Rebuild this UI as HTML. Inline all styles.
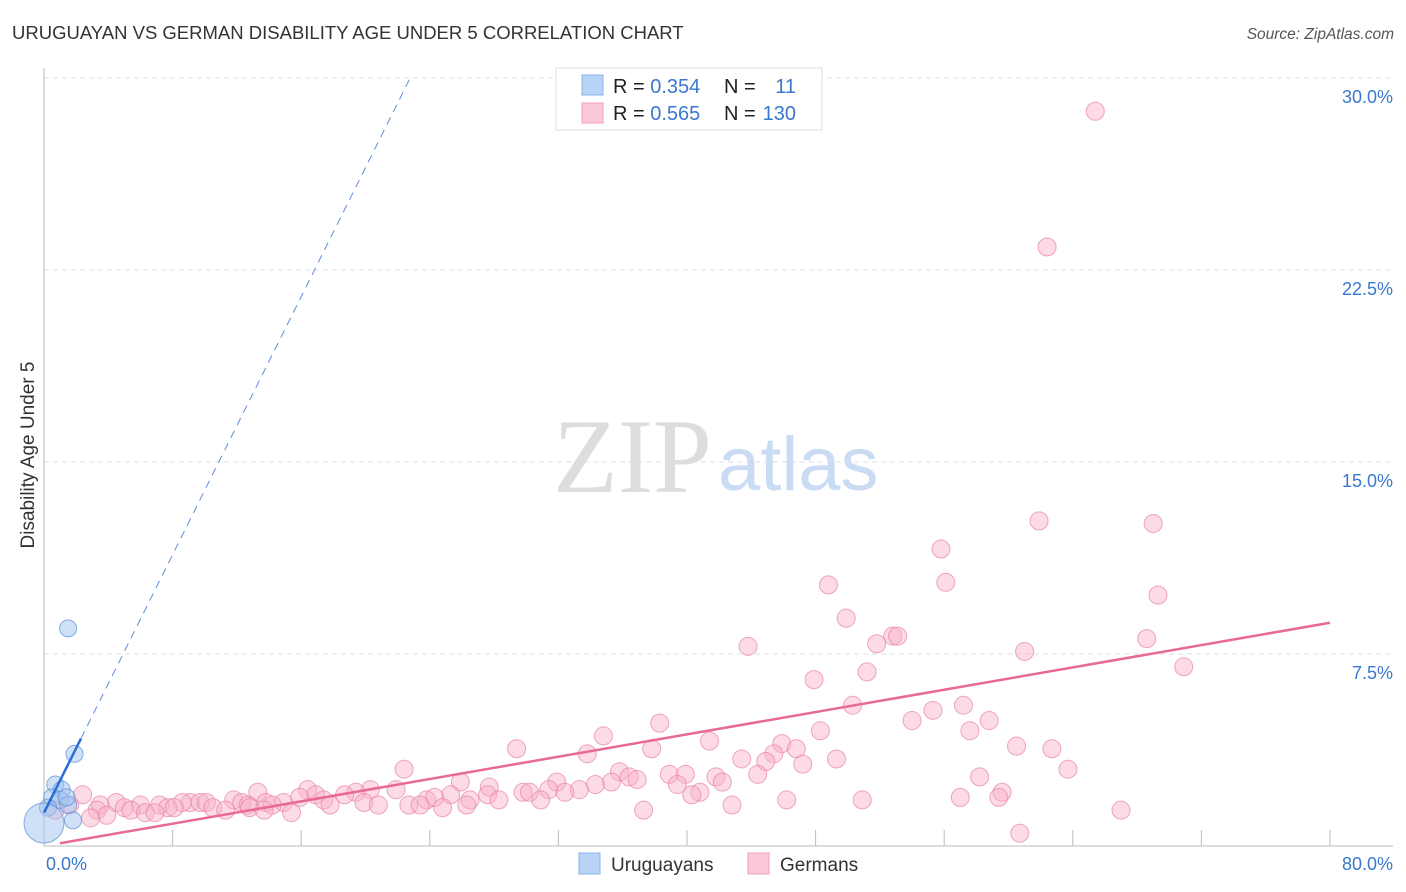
<!DOCTYPE html>
<html><head><meta charset="utf-8"><style>
body{margin:0;background:#fff;font-family:"Liberation Sans",sans-serif;}
#wrap{position:relative;width:1406px;height:892px;overflow:hidden;}
</style></head><body>
<div id="wrap">
<svg id="svg" width="1406" height="892" xmlns="http://www.w3.org/2000/svg">
<text x="12" y="39" font-size="18.5" fill="#333">URUGUAYAN VS GERMAN DISABILITY AGE UNDER 5 CORRELATION CHART</text>
<text x="1394" y="39" font-size="15.5" fill="#555" font-style="italic" text-anchor="end">Source: ZipAtlas.com</text>
<text transform="translate(34,455) rotate(-90)" font-size="19" fill="#333" text-anchor="middle">Disability Age Under 5</text>
<text x="553" y="492" font-size="106" fill="#ddd" font-family="Liberation Serif,serif">ZIP</text>
<text x="718" y="490" font-size="76" fill="#c9dcf3">atlas</text>
<g id="grid"></g><g id="marks"></g>
<g>
<rect x="556" y="68" width="266" height="62" fill="#fff" stroke="#ddd"/>
<rect x="582" y="75" width="21" height="20" fill="#b8d3f5" stroke="#8ab4e8"/>
<rect x="582" y="103" width="21" height="20" fill="#fbc9d8" stroke="#f0a0b8"/>
<text x="613" y="93" font-size="20" fill="#222">R = <tspan fill="#3a78d0">0.354</tspan></text>
<text x="724" y="93" font-size="20" fill="#222">N = </text><text x="796" y="93" font-size="20" fill="#3a78d0" text-anchor="end">11</text>
<text x="613" y="120" font-size="20" fill="#222">R = <tspan fill="#3a78d0">0.565</tspan></text>
<text x="724" y="120" font-size="20" fill="#222">N = </text><text x="796" y="120" font-size="20" fill="#3a78d0" text-anchor="end">130</text>
</g>
<g>
<rect x="579" y="853" width="21" height="21" fill="#b8d3f5" stroke="#8ab4e8"/>
<text x="611" y="871" font-size="19" fill="#333">Uruguayans</text>
<rect x="748" y="853" width="21" height="21" fill="#fbc9d8" stroke="#f0a0b8"/>
<text x="780" y="871" font-size="19" fill="#333">Germans</text>
</g>
</svg>
</div>
<script>
const xTicks=[0,80];
const yTicks=[7.5,15,22.5,30];
const blueX=[1.5,1.9,0.7,1.1,0.5,1.0,1.5,0.25,1.8,0,1.4];
const blueY=[8.5,3.6,2.4,2.2,1.9,1.8,1.6,1.5,1.0,0.9,1.9];
const pinkX=[65.4,62.4,61.9,69.0,55.8,56.1,48.8,69.3,49.9,52.8,53.1,51.8,68.6,43.8,61.0,70.9,51.2,47.9,50.3,57.2,55.3,54.0,58.8,38.3,48.3,57.6,34.8,41.4,45.9,46.8,29.4,37.8,60.5,62.7,45.4,33.8,43.4,49.3,44.9,47.2,63.7,22.4,35.8,38.9,39.9,44.4,36.4,41.8,36.9,35.3,25.9,58.2,31.9,42.2,39.4,27.7,34.3,13.3,16.4,20.3,21.9,31.4,33.3,19.4,29.8,32.4,40.8,59.6,16.9,18.7,25.3,27.6,30.2,40.3,59.4,2.4,57.0,46.2,15.9,23.8,24.3,26.5,28.3,30.9,50.9,9.1,9.7,11.8,14.9,17.4,19.9,20.8,26.3,4.5,6.0,8.6,10.1,12.3,13.8,14.2,17.8,22.7,23.4,42.8,3.5,5.0,7.2,7.7,8.1,10.5,12.7,12.8,24.8,3.3,5.4,6.3,6.9,11.3,13.7,15.4,3.9,2.9,67.0,37.3,0.7,1.6,60.7];
const pinkY=[28.7,23.4,12.7,12.6,11.6,10.3,10.2,9.8,8.9,8.2,8.2,7.9,8.1,7.8,7.6,7.0,6.8,6.5,5.5,5.5,5.3,4.9,4.9,4.8,4.5,4.5,4.3,4.1,4.0,3.8,3.8,3.8,3.9,3.8,3.6,3.6,3.4,3.4,3.3,3.2,3.0,3.0,2.9,2.8,2.8,2.8,2.7,2.7,2.6,2.5,2.5,2.7,2.5,2.5,2.4,2.3,2.4,2.1,2.2,2.2,2.2,2.2,2.2,2.1,2.1,2.1,2.1,2.1,2.0,2.0,2.0,2.0,2.1,2.0,1.9,2.0,1.9,1.8,1.9,1.8,1.9,1.8,1.8,1.8,1.8,1.7,1.7,1.8,1.7,1.8,1.7,1.6,1.6,1.7,1.6,1.7,1.7,1.7,1.7,1.6,1.6,1.6,1.6,1.6,1.6,1.5,1.6,1.5,1.5,1.5,1.6,1.5,1.5,1.4,1.4,1.3,1.3,1.4,1.4,1.3,1.2,1.1,1.4,1.4,1.4,1.6,0.5];
const pinkTrend=[1.0,0.0,80,0.109];
const blueTrend=[1.3,1.26,2.3,22.8];
const sx=v=>44+v*16.075, sy=v=>846-v*25.6;
const NS="http://www.w3.org/2000/svg";
const grid=document.getElementById('grid'),marks=document.getElementById('marks');
function mk(p,tag,a){const e=document.createElementNS(NS,tag);for(const k in a)e.setAttribute(k,a[k]);p.appendChild(e);return e;}
yTicks.forEach(t=>{
 const l=mk(grid,'line',{x1:44,x2:1393,y1:sy(t),y2:sy(t),stroke:'#ddd','stroke-dasharray':'5,4'});
 
 
 const tx=mk(grid,'text',{x:1393,y:sy(t)+25,'font-size':18,fill:'#3a78d0','text-anchor':'end'});tx.textContent=t.toFixed(1)+'%';
 
 
});
mk(grid,'line',{x1:44,x2:44,y1:68,y2:846,stroke:'#bbb'});
mk(grid,'line',{x1:44,x2:1393,y1:846,y2:846,stroke:'#bbb'});
for(let i=1;i<=10;i++){const x=sx(i*8);mk(grid,'line',{x1:x,x2:x,y1:830,y2:846,stroke:'#bbb'});}
xTicks.forEach((t,i)=>{
 const tx=mk(grid,'text',{x:i?1393:46,y:870,'font-size':18,fill:'#3a78d0','text-anchor':i?'end':'start'});tx.textContent=t.toFixed(1)+'%';
 
 
});
pinkX.forEach((x,i)=>{
 const c=mk(marks,'circle',{cx:sx(x),cy:sy(pinkY[i]),r:9,fill:'rgba(248,175,200,0.45)',stroke:'rgba(232,130,165,0.7)','stroke-width':1});
 
 
});
blueX.forEach((x,i)=>{
 const c=mk(marks,'circle',{cx:sx(x),cy:sy(blueY[i]),r:i==9?20:8.5,fill:'rgba(160,195,240,0.5)',stroke:'rgba(90,140,215,0.7)','stroke-width':1});
 
 
});
const pl=mk(marks,'line',{x1:sx(pinkTrend[0]),y1:sy(pinkTrend[1]+pinkTrend[3]*pinkTrend[0]),x2:sx(pinkTrend[2]),y2:sy(pinkTrend[1]+pinkTrend[3]*pinkTrend[2]),stroke:'#e8689a','stroke-width':2.5});


const bd=mk(marks,'line',{x1:sx(blueTrend[2]),y1:sy(blueTrend[0]+blueTrend[1]*blueTrend[2]),x2:sx(blueTrend[3]),y2:sy(blueTrend[0]+blueTrend[1]*blueTrend[3]),stroke:'#5b8fd8','stroke-width':1,'stroke-dasharray':'8,6'});


const bl=mk(marks,'line',{x1:sx(0),y1:sy(blueTrend[0]),x2:sx(blueTrend[2]),y2:sy(blueTrend[0]+blueTrend[1]*blueTrend[2]),stroke:'#2a6fd6','stroke-width':2.5});


</script>
</body></html>
